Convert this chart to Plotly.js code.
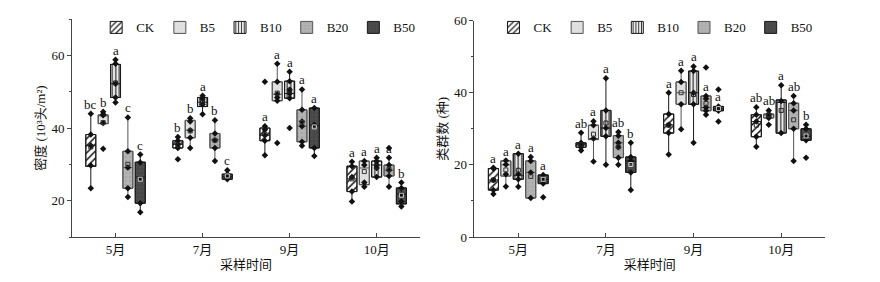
<!DOCTYPE html>
<html><head><meta charset="utf-8">
<script src="https://cdn.plot.ly/plotly-3.0.1.min.js"></script>
<style>html,body{margin:0;padding:0;background:#fff}#chart{width:880px;height:282px}</style>
</head><body><div id="chart"></div>
<script>
const months = ['5月','7月','9月','10月'];
const seriesNames = ['CK','B5','B10','B20','B50'];

// ---- Density panel (10^3 ind./m2); rows = CK,B5,B10,B20,B50 ; cols = months
const densLower  = [[23.4,34.5,32.5,19.8],[41.2,34.5,47.5,23.8],[47.0,43.8,48.2,26.5],[21.0,30.9,35.1,23.8],[16.8,25.9,32.3,18.4]];
const densQ1     = [[29.4,34.5,36.5,22.5],[41.2,37.3,47.5,24.4],[48.4,45.9,48.2,26.5],[23.4,34.5,36.2,26.8],[19.3,25.9,34.5,19.1]];
const densMedian = [[35.2,35.5,38.0,26.0],[43.5,39.4,49.3,29.0],[52.2,47.1,49.5,29.8],[29.1,36.8,40.5,28.4],[26.5,26.6,40.6,21.8]];
const densQ3     = [[38.2,36.5,40.0,29.5],[43.6,42.1,52.7,30.9],[57.5,48.4,52.9,30.9],[33.6,38.5,45.0,29.8],[30.6,27.3,45.5,23.5]];
const densUpper  = [[43.9,37.5,40.5,30.7],[44.5,42.7,57.7,30.9],[58.8,48.9,55.5,31.8],[42.9,42.1,50.6,31.8],[32.7,28.4,45.5,25.0]];
const densMean   = [[34.8,35.3,38.3,26.0],[41.5,39.2,49.6,28.0],[52.4,47.1,50.4,29.4],[30.0,36.6,41.5,28.6],[25.9,26.8,40.3,21.5]];
const densPoints = [
  [[43.9,38.2,35.2,29.7,23.4],[37.5,36.5,35.5,34.5,31.4],[52.7,40.5,39.5,38.0,36.5,32.5],[30.7,29.5,26.5,22.5,19.8]],
  [[44.5,43.8,43.5,41.4,34.3],[42.7,41.8,39.4,37.3,34.5],[57.7,52.7,49.3,48.4,47.5,35.9],[30.9,29.8,25.0,23.8]],
  [[58.8,57.7,52.2,48.4,47.0],[48.9,48.0,46.5,43.8],[55.5,52.9,50.5,49.5,48.2,40.0],[31.8,30.9,29.8,29.0,26.5]],
  [[42.9,33.6,29.1,23.4,21.0],[42.1,38.5,36.6,34.5,30.9],[50.6,45.0,41.8,40.5,36.2,35.1],[34.5,31.8,29.8,28.4,26.8,23.8]],
  [[32.7,30.5,26.0,19.3,16.8],[28.4,27.3,26.4,25.9],[45.5,40.9,34.5,32.3],[25.0,23.5,21.8,19.8,18.4]]
];
const densLetters = [['bc','b','a','a'],['b','b','a','a'],['a','a','a','a'],['c','b','a','a'],['c','c','a','b']];

// ---- Taxa number panel
const taxaLower  = [[11.9,24.0,22.9,25.0],[14.0,20.9,29.9,33.0],[13.9,20.0,26.1,28.8],[10.8,20.0,33.9,21.1],[14.8,13.0,35.0,26.8]];
const taxaQ1     = [[13.0,24.9,28.8,27.8],[16.9,27.0,36.8,33.0],[16.0,27.9,36.8,28.8],[10.8,22.0,35.0,30.0],[14.8,17.9,35.0,26.8]];
const taxaMedian = [[15.8,25.5,31.1,32.0],[20.0,27.3,40.0,34.0],[17.0,30.2,40.0,37.3],[17.9,26.1,35.9,35.1],[16.0,21.1,35.5,27.9]];
const taxaQ3     = [[19.0,26.1,34.1,33.9],[21.1,31.0,43.0,34.1],[23.1,35.1,46.0,38.0],[21.1,28.1,39.1,37.1],[17.2,22.2,36.2,30.0]];
const taxaUpper  = [[19.2,28.9,40.0,36.0],[21.2,32.1,46.1,35.1],[23.1,44.0,47.3,42.1],[22.2,29.1,39.1,39.1],[17.2,26.1,36.2,31.1]];
const taxaMean   = [[15.8,25.6,31.0,31.0],[18.6,28.5,40.0,33.8],[18.5,31.6,39.5,35.1],[16.8,25.0,37.0,32.5],[16.0,20.1,35.6,28.0]];
const taxaPoints = [
  [[19.2,19.0,15.8,13.0,11.9],[28.9,26.1,25.5,24.9,24.0],[40.0,34.1,31.1,28.8,22.9],[36.0,33.9,32.0,27.8,25.0]],
  [[21.2,20.1,17.4,14.0],[32.1,31.0,27.3,20.9],[46.1,43.0,36.8,29.9],[35.1,34.1,33.5,33.0,31.1]],
  [[23.1,17.4,16.0,13.9],[44.0,35.1,30.2,27.9,20.0],[47.3,46.0,40.0,36.8,26.1],[42.1,37.7,28.8]],
  [[22.2,21.1,17.9,10.8],[29.1,28.1,26.1,24.9,22.0,20.0],[47.0,39.1,38.3,35.9,35.0,33.9],[39.1,37.1,35.1,30.0,21.1]],
  [[17.2,15.8,14.8,11.0],[26.1,22.2,21.1,17.9,13.0],[40.9,36.2,35.5,35.0,32.0],[31.1,30.0,27.9,26.8,22.0]]
];
const taxaLetters = [['a','ab','a','ab'],['a','a','a','ab'],['a','a','a','a'],['a','ab','a','ab'],['a','b','a','b']];

// ---- styles
const FONT = "Liberation Serif, Times New Roman, Noto Sans CJK SC, serif";
const SLOT = 0.142, BOXW = 0.115;
const styles = [
  {bg:'#ffffff', fg:'#1a1a1a', shape:'/', size:5, solidity:0.3, line:'#1a1a1a', mean:'#222'},
  {bg:'#e3e3e3', fg:'#cccccc', shape:'+', size:4, solidity:0.15, line:'#555', mean:'#333'},
  {bg:'#ececec', fg:'#333333', shape:'|', size:3.5, solidity:0.35, line:'#1a1a1a', mean:'#222'},
  {bg:'#b3b3b3', fg:'#a3a3a3', shape:'.', size:4, solidity:0.2, line:'#555', mean:'#333'},
  {bg:'#4e4e4e', fg:'#3a3a3a', shape:'+', size:4, solidity:0.2, line:'#1a1a1a', mean:'#cfcfcf'}
];
function pos(m, s){ return m + (s - (seriesNames.length - 1) / 2) * SLOT; }

const traces = [], annotations = [];
function panel(xa, ya, legendId, lower, q1, med, q3, upper, mean, pts, letters){
  seriesNames.forEach((name, s) => {
    const st = styles[s];
    const xs = months.map((_, m) => pos(m, s));
    traces.push({type:'bar', name:name, legend:legendId, xaxis:xa, yaxis:ya, x:xs, base:q1[s],
      y:q3[s].map((v,i)=>v - q1[s][i]), width:BOXW, hoverinfo:'skip',
      marker:{color:st.bg, line:{width:1, color:st.line},
        pattern:{shape:st.shape, fgcolor:st.fg, bgcolor:st.bg, size:st.size, solidity:st.solidity}}});
    traces.push({type:'box', orientation:'v', showlegend:false, xaxis:xa, yaxis:ya, x:xs,
      q1:q1[s], median:med[s], q3:q3[s], lowerfence:lower[s], upperfence:upper[s],
      width:BOXW, whiskerwidth:0, fillcolor:'rgba(0,0,0,0)', line:{color:st.line, width:1}, boxpoints:false, hoverinfo:'skip'});
    traces.push({type:'scatter', mode:'markers', showlegend:false, xaxis:xa, yaxis:ya,
      x:pts[s].flatMap((arr, m) => arr.map(() => pos(m, s))), y:pts[s].flat(),
      marker:{symbol:'diamond', size:5, color:'#111'}, hoverinfo:'y'});
    traces.push({type:'scatter', mode:'markers', showlegend:false, xaxis:xa, yaxis:ya,
      x:xs, y:mean[s], marker:{symbol:'square-open', size:4, color:st.mean, line:{width:1}}, hoverinfo:'y'});
    months.forEach((_, m) => {
      annotations.push({xref:xa, yref:ya, x:pos(m, s), y:upper[s][m], text:letters[s][m],
        showarrow:false, yanchor:'bottom', xanchor:'center', yshift:0,
        font:{family:FONT, size:13, color:'#111'}});
    });
  });
}
panel('x', 'y', 'legend', densLower, densQ1, densMedian, densQ3, densUpper, densMean, densPoints, densLetters);
panel('x2', 'y2', 'legend2', taxaLower, taxaQ1, taxaMedian, taxaQ3, taxaUpper, taxaMean, taxaPoints, taxaLetters);

const axisCommon = {showline:true, linecolor:'#444', linewidth:1, showgrid:false, zeroline:false,
  tickfont:{family:FONT, size:13, color:'#111'}, tickcolor:'#444'};
const xCommon = Object.assign({}, axisCommon, {range:[-0.5, 3.5], tickvals:months.map((_, i) => i), ticktext:months,
  ticks:'inside', ticklen:4, title:{text:'采样时间', font:{family:FONT, size:13, color:'#111'}, standoff:4}});
const yCommon = Object.assign({}, axisCommon, {tick0:0, dtick:20, ticks:'outside', ticklen:4,
  minor:{dtick:10, tick0:0, ticks:'outside', ticklen:2, tickcolor:'#444'}});
const legendCommon = {orientation:'h', xanchor:'right', yanchor:'top', y:1.03, bgcolor:'rgba(0,0,0,0)',
  font:{family:FONT, size:13, color:'#111'}, itemwidth:30, tracegroupgap:0};

const layout = {
  width:880, height:282, paper_bgcolor:'#fff', plot_bgcolor:'#fff',
  margin:{l:71.7, r:55, t:16.7, b:45.3},
  barmode:'overlay', boxmode:'overlay',
  font:{family:FONT, color:'#111'},
  xaxis:Object.assign({}, xCommon, {domain:[0, 0.4624], anchor:'y'}),
  xaxis2:Object.assign({}, xCommon, {domain:[0.5345, 1], anchor:'y2'}),
  yaxis:Object.assign({}, yCommon, {domain:[0, 1], range:[10, 70], anchor:'x',
    title:{text:'密度 (10³头/m²)', font:{family:FONT, size:13, color:'#111'}, standoff:2}}),
  yaxis2:Object.assign({}, yCommon, {domain:[0, 0.9927], range:[0, 60], anchor:'x2',
    title:{text:'类群数 (种)', font:{family:FONT, size:13, color:'#111'}, standoff:3}}),
  legend:Object.assign({}, legendCommon, {x:0.4624}),
  legend2:Object.assign({}, legendCommon, {x:0.99}),
  annotations:annotations,
  showlegend:true
};
Plotly.newPlot('chart', traces, layout, {staticPlot:true, displayModeBar:false});
</script></body></html>
